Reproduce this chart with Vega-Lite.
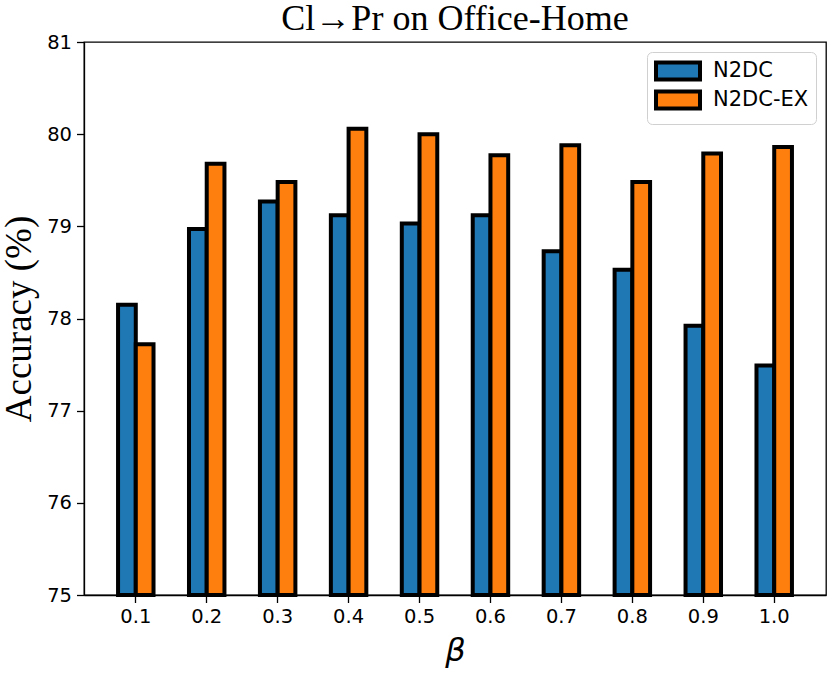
{
  "$schema": "https://vega.github.io/schema/vega-lite/v6.json",
  "width": 742,
  "height": 553,
  "autosize": {"type": "none"},
  "padding": {"left": 84, "top": 42, "right": 5, "bottom": 79},
  "background": "white",
  "title": {
    "text": "Cl→Pr on Office-Home",
    "font": "Liberation Serif",
    "fontSize": 36,
    "fontWeight": "normal",
    "color": "black",
    "anchor": "middle",
    "frame": "group",
    "offset": -6
  },
  "data": {
    "values": [
      {"beta": "0.1", "method": "N2DC", "acc": 78.15},
      {"beta": "0.1", "method": "N2DC-EX", "acc": 77.72},
      {"beta": "0.2", "method": "N2DC", "acc": 78.97},
      {"beta": "0.2", "method": "N2DC-EX", "acc": 79.68},
      {"beta": "0.3", "method": "N2DC", "acc": 79.27},
      {"beta": "0.3", "method": "N2DC-EX", "acc": 79.48},
      {"beta": "0.4", "method": "N2DC", "acc": 79.12},
      {"beta": "0.4", "method": "N2DC-EX", "acc": 80.06},
      {"beta": "0.5", "method": "N2DC", "acc": 79.03},
      {"beta": "0.5", "method": "N2DC-EX", "acc": 80.0},
      {"beta": "0.6", "method": "N2DC", "acc": 79.12},
      {"beta": "0.6", "method": "N2DC-EX", "acc": 79.77},
      {"beta": "0.7", "method": "N2DC", "acc": 78.73},
      {"beta": "0.7", "method": "N2DC-EX", "acc": 79.88},
      {"beta": "0.8", "method": "N2DC", "acc": 78.53},
      {"beta": "0.8", "method": "N2DC-EX", "acc": 79.48},
      {"beta": "0.9", "method": "N2DC", "acc": 77.92},
      {"beta": "0.9", "method": "N2DC-EX", "acc": 79.79},
      {"beta": "1.0", "method": "N2DC", "acc": 77.49},
      {"beta": "1.0", "method": "N2DC-EX", "acc": 79.86}
    ]
  },
  "mark": {"type": "bar", "stroke": "black", "strokeWidth": 4, "opacity": 1},
  "encoding": {
    "x": {
      "field": "beta",
      "type": "ordinal",
      "title": "β",
      "scale": {"paddingInner": 0, "paddingOuter": 0.23},
      "axis": {
        "labelAngle": 0,
        "titleFont": "DejaVu Sans",
        "titleFontStyle": "italic",
        "titleFontSize": 32,
        "titleFontWeight": "normal",
        "titlePadding": 9
      }
    },
    "xOffset": {
      "field": "method",
      "type": "nominal",
      "scale": {"paddingInner": 0, "paddingOuter": 1.02}
    },
    "y": {
      "field": "acc",
      "type": "quantitative",
      "title": "Accuracy (%)",
      "scale": {"domain": [75, 81], "nice": false, "zero": false},
      "axis": {
        "values": [75, 76, 77, 78, 79, 80, 81],
        "titleFont": "Liberation Serif",
        "titleFontSize": 37,
        "titleFontWeight": "normal",
        "titlePadding": 8
      }
    },
    "y2": {"datum": 75},
    "color": {
      "field": "method",
      "type": "nominal",
      "scale": {"domain": ["N2DC", "N2DC-EX"], "range": ["#1f77b4", "#ff7f0e"]},
      "legend": {
        "title": null,
        "orient": "top-right",
        "offset": 10,
        "padding": 7,
        "strokeColor": "#d0d0d0",
        "fillColor": "white",
        "cornerRadius": 5,
        "symbolType": "M-1,-0.85H3.4V0.85H-1Z",
        "symbolSize": 400,
        "symbolStrokeColor": "black",
        "symbolStrokeWidth": 4,
        "symbolOpacity": 1,
        "labelFont": "DejaVu Sans",
        "labelFontSize": 21,
        "labelColor": "black",
        "labelOffset": 35,
        "rowPadding": -6
      }
    }
  },
  "config": {
    "view": {"stroke": "black", "strokeWidth": 1.3},
    "axis": {
      "grid": false,
      "domainColor": "black",
      "domainWidth": 1.3,
      "tickColor": "black",
      "tickWidth": 1.3,
      "tickSize": 7.5,
      "labelFont": "DejaVu Sans",
      "labelFontSize": 19.5,
      "labelColor": "black",
      "labelPadding": 5,
      "titleColor": "black"
    }
  }
}
